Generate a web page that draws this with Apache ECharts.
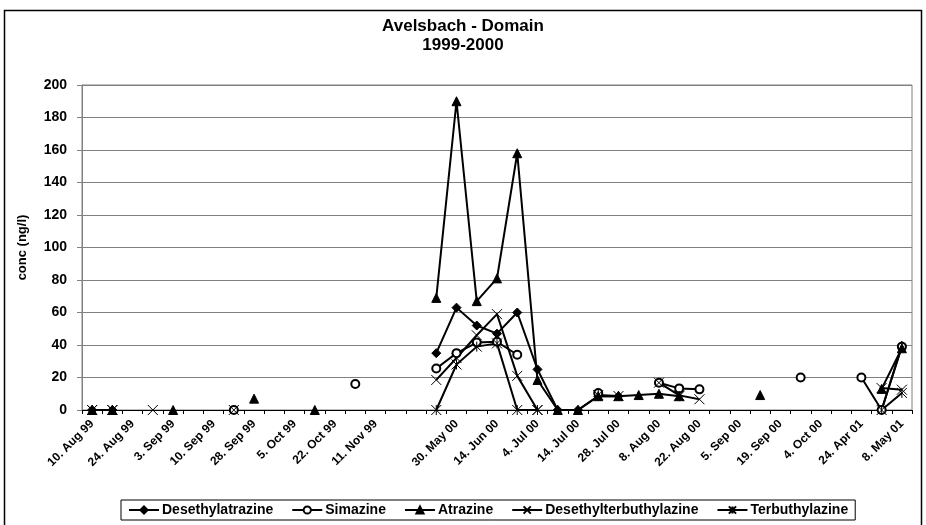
<!DOCTYPE html>
<html>
<head>
<meta charset="utf-8">
<script src="https://cdn.jsdelivr.net/npm/echarts@6/dist/echarts.min.js"></script>
<style>
  html, body { margin: 0; padding: 0; background: #fff; }
  #main { width: 926px; height: 525px; }
</style>
</head>
<body>
<div id="main"></div>
<script>
// sampling dates (category axis), only every 2nd one is labelled in the original
var dates = [
  '10. Aug 99', '', '24. Aug 99', '', '3. Sep 99', '', '10. Sep 99', '', '28. Sep 99', '',
  '5. Oct 99', '', '22. Oct 99', '', '11. Nov 99', '', '', '', '30. May 00', '',
  '14. Jun 00', '', '4. Jul 00', '', '14. Jul 00', '', '28. Jul 00', '', '8. Aug 00', '',
  '22. Aug 00', '', '5. Sep 00', '', '19. Sep 00', '', '4. Oct 00', '', '24. Apr 01', '',
  '8. May 01'
];

var _ = null;
var desethylatrazine = [
  0, 0, _, _, _, _, _, _, _, _,
  _, _, _, _, _, _, _, 35, 63, 52,
  47, 60, 25, 0, 0, 8.5, 8.5, _, _, _,
  _, _, _, _, _, _, _, _, _, 0,
  39.5
];
var simazine = [
  _, _, _, _, _, _, _, 0, _, _,
  _, _, _, 16, _, _, _, 25.5, 35, 41.5,
  42, 34, _, _, _, 10.5, _, _, 16.8, 13.3,
  12.7, _, _, _, _, 20, _, _, 20, 0,
  39
];
var atrazine = [
  0, 0, _, _, 0, _, _, _, 7, _,
  _, 0, _, _, _, _, _, 69, 190, 67,
  81, 158, 18.5, 0, 0, 8.5, 8.5, 9.2, 10, 8.5,
  _, _, _, 9.2, _, _, _, _, _, 13,
  38
];
var desethylterbuthylazine = [
  0, 0, _, 0, _, _, _, 0, _, _,
  _, _, _, _, _, _, _, 18.5, 32, 46,
  59, 21, 0, _, _, _, _, _, 16.8, 9,
  6.6, _, _, _, _, _, _, _, _, 13.5,
  12.5
];
var terbuthylazine = [
  0, 0, _, _, _, _, _, _, _, _,
  _, _, _, _, _, _, _, 0, 28, 39,
  41, 0, 0, _, _, 9.2, 8.6, _, _, 8.5,
  _, _, _, _, _, _, _, _, _, 0,
  10.5
];

var yTicks = { min: 0, max: 200, step: 20 };

var crossPath = 'path://M0,0L10,10M10,0L0,10';
var starPath = 'path://M0,0L10,10M10,0L0,10M5,0L5,10';

function mkSeries(name, data, symbol, size) {
  return {
    name: name,
    type: 'line',
    data: data,
    symbol: symbol,
    symbolSize: size,
    showAllSymbol: true,
    connectNulls: false,
    lineStyle: { color: '#000', width: 2 },
    itemStyle: { color: '#000', borderColor: '#000', borderWidth: 1 },
    emphasis: { disabled: true }
  };
}

var myChart = echarts.init(document.getElementById('main'));
var option = {
  animation: false,
  backgroundColor: '#fff',
  title: {
    text: 'Avelsbach - Domain\n1999-2000',
    left: 'center',
    top: 17,
    padding: 0,
    textStyle: { fontFamily: 'Liberation Sans', fontSize: 17, fontWeight: 'bold', lineHeight: 19, color: '#000' }
  },
  graphic: [{
    type: 'rect',
    shape: { x: 4.5, y: 10.5, width: 917, height: 525 },
    style: { fill: 'none', stroke: '#000', lineWidth: 1.5 },
    silent: true
  }],
  legend: {
    bottom: 5,
    left: 121,
    padding: [3, 7],
    borderColor: '#000',
    borderWidth: 1,
    itemWidth: 30,
    itemHeight: 9,
    itemGap: 18,
    textStyle: { fontFamily: 'Liberation Sans', fontSize: 14, fontWeight: 'bold', color: '#000', padding: [0, 0, 0, -2] },
    data: ['Desethylatrazine', 'Simazine', 'Atrazine', 'Desethylterbuthylazine', 'Terbuthylazine']
  },
  grid: {
    left: 82,
    right: 14,
    top: 85,
    bottom: 115,
    show: true,
    borderColor: '#808080',
    borderWidth: 1
  },
  xAxis: {
    type: 'category',
    data: dates,
    boundaryGap: true,
    axisLine: { lineStyle: { color: '#000', width: 1 } },
    axisTick: { show: true, interval: 0, length: 4, lineStyle: { color: '#000' } },
    axisLabel: {
      interval: 0,
      rotate: 45,
      margin: 12,
      fontFamily: 'Liberation Sans',
      fontSize: 12,
      fontWeight: 'bold',
      color: '#000'
    },
    splitLine: { show: false }
  },
  yAxis: {
    type: 'value',
    min: yTicks.min,
    max: yTicks.max,
    interval: yTicks.step,
    name: 'conc (ng/l)',
    nameLocation: 'middle',
    nameGap: 53,
    nameRotate: 90,
    nameTextStyle: { fontFamily: 'Liberation Sans', fontSize: 13, fontWeight: 'bold', color: '#000' },
    axisLine: { show: true, lineStyle: { color: '#808080' } },
    axisTick: { show: true, length: 5, lineStyle: { color: '#808080' } },
    axisLabel: {
      margin: 15,
      fontFamily: 'Liberation Sans',
      fontSize: 14,
      fontWeight: 'bold',
      color: '#000'
    },
    splitLine: { show: true, lineStyle: { color: '#808080', width: 1 } }
  },
  series: [
    mkSeries('Desethylatrazine', desethylatrazine, 'diamond', 9),
    mkSeries('Simazine', simazine, 'emptyCircle', 8),
    mkSeries('Atrazine', atrazine, 'triangle', 9),
    mkSeries('Desethylterbuthylazine', desethylterbuthylazine, crossPath, 10),
    mkSeries('Terbuthylazine', terbuthylazine, starPath, 10)
  ]
};
myChart.setOption(option);
</script>
</body>
</html>
